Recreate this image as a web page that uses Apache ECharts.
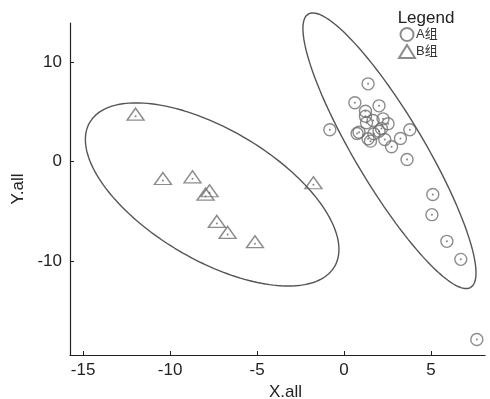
<!DOCTYPE html>
<html>
<head>
<meta charset="utf-8">
<script src="https://cdn.jsdelivr.net/npm/echarts@6/dist/echarts.min.js"></script>
<style>
  html, body { margin: 0; padding: 0; background: #fff; }
  #main { width: 490px; height: 399px; }
</style>
</head>
<body>
<div id="main"></div>
<script>
// tick values
var xTicks = [-15, -10, -5, 0, 5];
var yTicks = [-10, 0, 10];

// A组 points (x, y)
var groupA = [
  [1.38, 7.86], [0.62, 5.95], [2.01, 5.64], [1.23, 5.1], [1.23, 4.6],
  [1.67, 4.16], [2.24, 4.33], [2.53, 3.83], [1.29, 3.93], [2.15, 3.36],
  [-0.82, 3.23], [3.78, 3.23], [0.86, 2.98], [0.75, 2.85], [1.71, 2.82],
  [2.01, 3.08], [2.34, 2.25], [3.24, 2.35], [1.38, 2.32], [1.52, 2.08],
  [2.73, 1.51], [3.62, 0.23], [5.10, -3.30], [5.05, -5.34], [5.91, -8.03],
  [6.71, -9.85], [7.63, -17.94]
];

// B组 points (x, y)
var groupB = [
  [-11.98, 4.6], [-10.41, -1.89], [-8.71, -1.72], [-7.73, -3.13], [-7.96, -3.47],
  [-7.31, -6.22], [-6.69, -7.33], [-5.12, -8.27], [-1.76, -2.32]
];

// ellipses: centre plus two conjugate half-diameters (data units)
var ellipseA = { center: [2.61, 1.11], u: [-4.41, 13.91], v: [2.30, 0] };
var ellipseB = { center: [-7.58, -3.30], u: [-4.37, 9.24], v: [5.83, 0] };

function outline(e) {
  var pts = [];
  for (var i = 0; i <= 180; i++) {
    var t = i / 180 * Math.PI * 2;
    pts.push([
      e.center[0] + e.u[0] * Math.cos(t) + e.v[0] * Math.sin(t),
      e.center[1] + e.u[1] * Math.cos(t) + e.v[1] * Math.sin(t)
    ]);
  }
  return pts;
}

var myChart = echarts.init(document.getElementById('main'));
var font = 'Liberation Sans, Arial, Noto Sans CJK SC, sans-serif';
var markColor = '#6f6f6f';

var option = {
  animation: false,
  backgroundColor: '#fff',
  title: {
    text: 'Legend',
    left: 421, top: 5,
    textAlign: 'center',
    textStyle: { fontFamily: font, fontSize: 17, fontWeight: 'normal', color: '#222' }
  },
  legend: {
    data: ['A组', 'B组'],
    orient: 'vertical',
    left: 398, top: 27,
    itemWidth: 16, itemHeight: 13,
    itemGap: 2,
    padding: 0,
    textStyle: { fontFamily: font, fontSize: 13, color: '#333', padding: [0, 0, 0, -4] }
  },
  grid: { left: 70, right: 5, top: 23, bottom: 44, containLabel: false, outerBoundsMode: 'none' },
  xAxis: {
    type: 'value',
    min: -15.75, max: 8.1,
    name: 'X.all',
    nameLocation: 'middle',
    nameGap: 26,
    nameTextStyle: { fontFamily: font, fontSize: 17, color: '#222', padding: [0, 0, 0, 16] },
    splitLine: { show: false },
    axisLine: { onZero: false, lineStyle: { color: '#222', width: 1.2 } },
    axisTick: { inside: true, length: 4, customValues: xTicks, lineStyle: { color: '#222' } },
    axisLabel: { customValues: xTicks, margin: 7, fontFamily: font, fontSize: 17, color: '#222' }
  },
  yAxis: {
    type: 'value',
    min: -19.5, max: 14,
    name: 'Y.all',
    nameLocation: 'middle',
    nameGap: 40,
    nameTextStyle: { fontFamily: font, fontSize: 17, color: '#222' },
    splitLine: { show: false },
    axisLine: { show: true, onZero: false, lineStyle: { color: '#222', width: 1.2 } },
    axisTick: { show: true, inside: true, length: 4, customValues: yTicks, lineStyle: { color: '#222' } },
    axisLabel: { customValues: yTicks, margin: 8, fontFamily: font, fontSize: 17, color: '#222' }
  },
  series: [
    {
      name: 'ellipseA', type: 'line', data: outline(ellipseA),
      showSymbol: false, clip: false, silent: true,
      lineStyle: { color: '#555', width: 1.4 }
    },
    {
      name: 'ellipseB', type: 'line', data: outline(ellipseB),
      showSymbol: false, clip: false, silent: true,
      lineStyle: { color: '#555', width: 1.4 }
    },
    {
      name: 'A组', type: 'scatter', data: groupA,
      symbol: 'circle', symbolSize: 12, clip: false,
      itemStyle: { color: 'rgba(255,255,255,0)', borderColor: markColor, borderWidth: 1.4 }
    },
    {
      name: 'B组', type: 'scatter', data: groupB,
      symbol: 'triangle', symbolSize: [17, 12], symbolOffset: [0, -2], clip: false,
      itemStyle: { color: 'rgba(255,255,255,0)', borderColor: markColor, borderWidth: 1.4 }
    },
    {
      name: 'A点', type: 'scatter', data: groupA,
      symbol: 'circle', symbolSize: 2, clip: false,
      itemStyle: { color: '#666' }
    },
    {
      name: 'B点', type: 'scatter', data: groupB,
      symbol: 'circle', symbolSize: 2, clip: false,
      itemStyle: { color: '#666' }
    }
  ]
};

myChart.setOption(option);
window.addEventListener('resize', function () {
  myChart.resize();
});
</script>
</body>
</html>
